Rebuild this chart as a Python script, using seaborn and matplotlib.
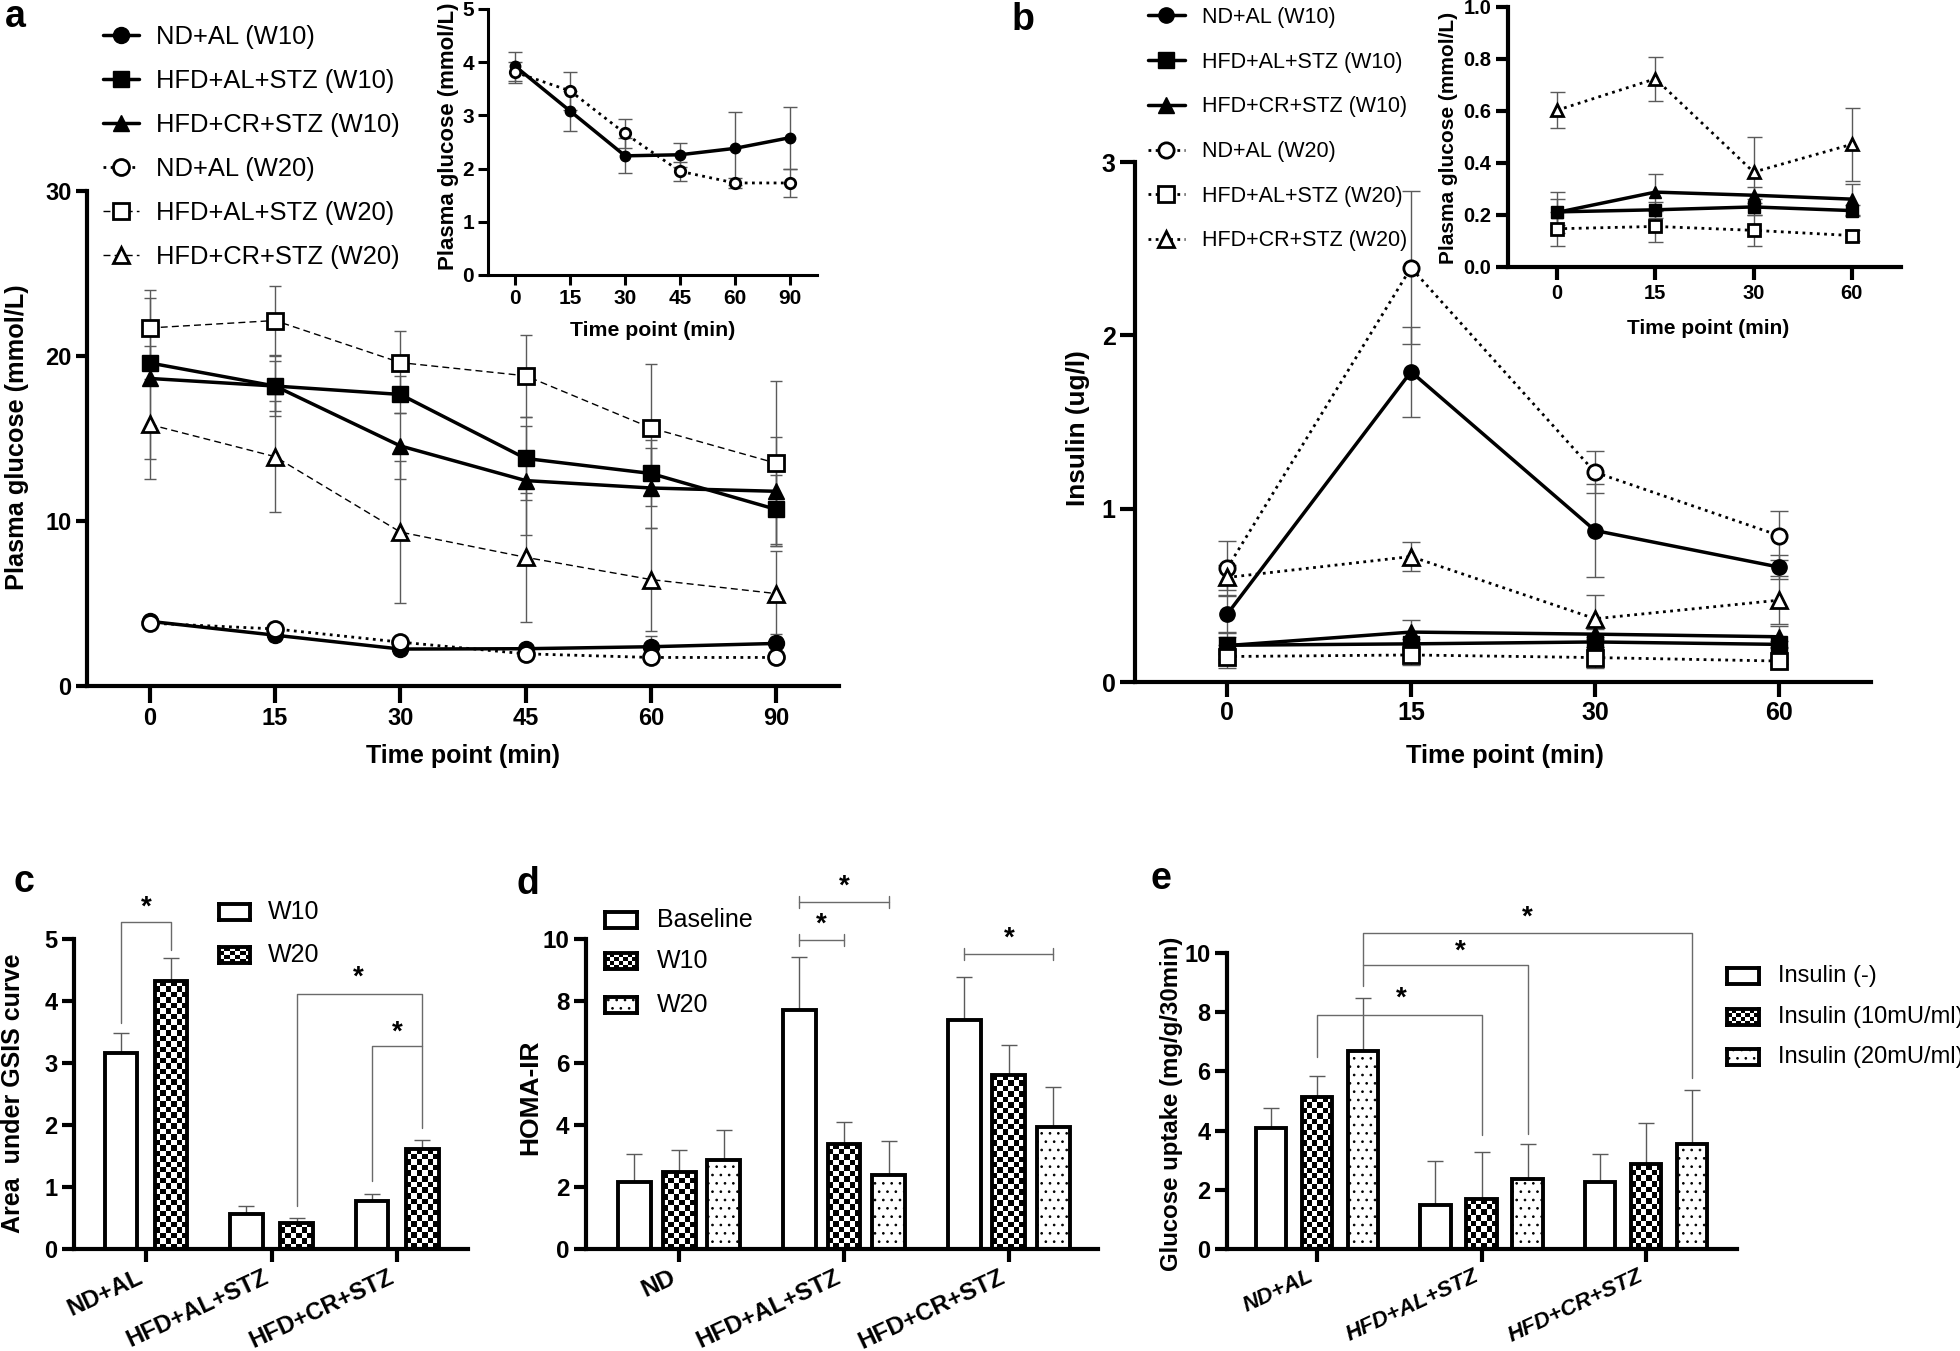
"""Glucose/insulin tolerance panels (a, b) and bar panels (c, d, e)."""
import numpy as np
import pandas as pd
import matplotlib
matplotlib.use('Agg')
import matplotlib.pyplot as plt
from matplotlib.patches import Rectangle
import seaborn as sns

W, H = 1960, 1351

# ---- panel a: plasma glucose over time
times_a = ['0', '15', '30', '45', '60', '90']
a_nd_w10 = [3.92, 3.08, 2.24, 2.26, 2.38, 2.58]
a_nd_w10_err = [0.28, 0.38, 0.33, 0.23, 0.68, 0.58]
a_al_w10 = [19.58, 18.18, 17.67, 13.79, 12.88, 10.7]
a_al_w10_err = [1.0, 1.5, 1.1, 2.5, 2.0, 2.1]
a_cr_w10 = [18.64, 18.18, 14.55, 12.45, 12.0, 11.8]
a_cr_w10_err = [4.9, 1.8, 2.0, 3.3, 2.4, 3.3]
a_nd_w20 = [3.81, 3.46, 2.66, 1.95, 1.73, 1.73]
a_nd_w20_err = [0.2, 0.35, 0.27, 0.18, 0.1, 0.27]
a_al_w20 = [21.7, 22.15, 19.6, 18.8, 15.64, 13.5]
a_al_w20_err = [2.3, 2.1, 1.9, 2.5, 3.9, 5.0]
a_cr_w20 = [15.85, 13.9, 9.33, 7.8, 6.45, 5.6]
a_cr_w20_err = [3.3, 3.35, 4.3, 3.9, 3.1, 2.6]

# ---- panel b: insulin over time
times_b = ['0', '15', '30', '60']
b_nd_w10 = [0.39, 1.79, 0.874, 0.663]
b_nd_w10_err = [0.11, 0.26, 0.27, 0.07]
b_al_w10 = [0.212, 0.22, 0.231, 0.217]
b_al_w10_err = [0.05, 0.03, 0.03, 0.02]
b_cr_w10 = [0.21, 0.288, 0.276, 0.261]
b_cr_w10_err = [0.08, 0.07, 0.03, 0.06]
b_nd_w20 = [0.655, 2.39, 1.21, 0.845]
b_nd_w20_err = [0.16, 0.44, 0.12, 0.14]
b_al_w20 = [0.147, 0.156, 0.141, 0.121]
b_al_w20_err = [0.066, 0.06, 0.06, 0.02]
b_cr_w20 = [0.603, 0.724, 0.365, 0.472]
b_cr_w20_err = [0.07, 0.085, 0.135, 0.14]

labels_lines = ['ND+AL (W10)', 'HFD+AL+STZ (W10)', 'HFD+CR+STZ (W10)',
                'ND+AL (W20)', 'HFD+AL+STZ (W20)', 'HFD+CR+STZ (W20)']

# ---- panel c: AUC of GSIS
groups_c = ['ND+AL', 'HFD+AL+STZ', 'HFD+CR+STZ']
levels_c = ['W10', 'W20']
c_w10 = [3.16, 0.57, 0.78]
c_w10_err = [0.33, 0.12, 0.11]
c_w20 = [4.32, 0.42, 1.62]
c_w20_err = [0.37, 0.08, 0.14]

# ---- panel d: HOMA-IR
groups_d = ['ND', 'HFD+AL+STZ', 'HFD+CR+STZ']
levels_d = ['Baseline', 'W10', 'W20']
d_base = [2.15, 7.71, 7.38]
d_base_err = [0.91, 1.72, 1.41]
d_w10 = [2.47, 3.39, 5.6]
d_w10_err = [0.73, 0.7, 0.98]
d_w20 = [2.88, 2.4, 3.93]
d_w20_err = [0.97, 1.07, 1.31]

# ---- panel e: glucose uptake
groups_e = ['ND+AL', 'HFD+AL+STZ', 'HFD+CR+STZ']
levels_e = ['Insulin (-)', 'Insulin (10mU/ml)', 'Insulin (20mU/ml)']
e_none = [4.1, 1.48, 2.26]
e_none_err = [0.68, 1.49, 0.96]
e_10 = [5.12, 1.7, 2.86]
e_10_err = [0.71, 1.59, 1.38]
e_20 = [6.7, 2.37, 3.54]
e_20_err = [1.79, 1.19, 1.84]

sns.set_theme(style='ticks')
plt.rcParams['font.family'] = ['Liberation Sans', 'DejaVu Sans']
plt.rcParams.update({'axes.edgecolor': 'black', 'xtick.color': 'black', 'ytick.color': 'black',
                     'text.color': 'black', 'axes.labelcolor': 'black', 'hatch.linewidth': 0.7})

fig = plt.figure(figsize=(W / 100, H / 100), dpi=100)
ERR = '#5a5a5a'
CELL = 5.5  # checkerboard square, px


def px_axes(left, top, right, bottom):
    return fig.add_axes([left / W, 1 - bottom / H, (right - left) / W, (bottom - top) / H])


def style(ax, lw, xlen, ylen, size, italic=False):
    sns.despine(ax=ax)
    for s in ['left', 'bottom']:
        ax.spines[s].set_linewidth(lw)
    ax.tick_params(axis='x', width=lw, length=xlen, pad=3)
    ax.tick_params(axis='y', width=lw, length=ylen, pad=3)
    for t in ax.get_xticklabels() + ax.get_yticklabels():
        t.set_fontweight('bold')
        t.set_fontsize(size)
        if italic and t in ax.get_xticklabels():
            t.set_fontstyle('italic')


def draw_lines(ax, series, ms, cap, styles):
    handles = []
    for (vals, errs), (mk, filled, ls, lw) in zip(series, styles):
        x = np.arange(len(vals))
        ax.errorbar(x, vals, yerr=errs, fmt='none', ecolor=ERR, elinewidth=1.0,
                    capsize=cap, capthick=1.0, zorder=1)
        sns.lineplot(x=x, y=vals, ax=ax, color='black', lw=lw, ls=ls, marker=mk, ms=ms,
                     mfc='black' if filled else 'white', mec='black',
                     mew=1.0 if filled else 2.0, errorbar=None, legend=False, zorder=3)
        handles.append(ax.lines[-1])
    return handles


def checker_fill(ax, patch, cell=CELL):
    x, y, w, h = patch.get_x(), patch.get_y(), patch.get_width(), patch.get_height()
    p0 = ax.transData.transform((x, y))
    p1 = ax.transData.transform((x + w, y + h))
    nx = max(2, int(round((p1[0] - p0[0]) / cell)))
    ny = max(1, int(round((p1[1] - p0[1]) / cell)))
    board = np.indices((ny, nx)).sum(axis=0) % 2
    ax.imshow(board, extent=(x, x + w, y, y + h), origin='lower', cmap='gray_r', vmin=0, vmax=1,
              interpolation='nearest', aspect='auto', zorder=0.8)
    patch.set_facecolor('none')


def swatch(left, top, w, h, kind):
    sw = fig.add_axes([(left + 2) / W, 1 - (top + h - 2) / H, (w - 4) / W, (h - 4) / H])
    sw.set_xticks([])
    sw.set_yticks([])
    for s in sw.spines.values():
        s.set_visible(True)
        s.set_linewidth(2.8)
        s.set_color('black')
    if kind == 'checker':
        board = np.indices((max(1, round(h / CELL)), max(1, round(w / CELL)))).sum(axis=0) % 2
        sw.imshow(board, cmap='gray_r', vmin=0, vmax=1, interpolation='nearest', aspect='auto')
    elif kind == 'dots':
        sw.add_patch(Rectangle((0, 0), 1, 1, transform=sw.transAxes, facecolor='white',
                               edgecolor='black', hatch='..', lw=0))


def bar_panel(ax, groups, levels, values, errors, width, gap, ylim, xlim, kinds):
    df = pd.DataFrame({'group': np.repeat([groups], len(levels), axis=0).ravel(),
                       'cond': np.repeat(levels, len(groups)),
                       'value': np.concatenate(values)})
    sns.barplot(data=df, x='group', y='value', hue='cond', order=groups, hue_order=levels,
                palette=['white'] * len(levels), edgecolor='black', linewidth=2.8,
                width=width, gap=gap, errorbar=None, legend=False, saturation=1, ax=ax)
    conts = list(ax.containers)
    ax.set_xlim(*xlim)
    ax.set_ylim(*ylim)
    for cont, vals, errs, kind in zip(conts, values, errors, kinds):
        xs = [p.get_x() + p.get_width() / 2 for p in cont]
        ax.errorbar(xs, vals, yerr=[np.zeros(len(vals)), errs], fmt='none', ecolor=ERR,
                    elinewidth=1.0, capsize=6, capthick=1.0, zorder=0.5)
        for p in cont:
            if kind == 'checker':
                checker_fill(ax, p)
            elif kind == 'dots':
                p.set_hatch('..')
    ax.set_xlim(*xlim)
    ax.set_ylim(*ylim)
    ax.set_xlabel('')


def bracket(ax, xs, ys):
    ax.plot(xs, ys, color='#6a6a6a', lw=1.0, clip_on=False, zorder=4)


def star(ax, x, y):
    ax.text(x, y, '*', ha='center', va='center', fontsize=20, fontweight='bold', clip_on=False)


styles_a = [('o', True, '-', 2.5), ('s', True, '-', 2.5), ('^', True, '-', 2.5),
            ('o', False, (0, (1, 1.6)), 2.0), ('s', False, (0, (5, 3)), 1.0),
            ('^', False, (0, (5, 3)), 1.0)]
styles_b = [('o', True, '-', 2.5), ('s', True, '-', 2.5), ('^', True, '-', 2.5),
            ('o', False, (0, (1, 1.6)), 2.0), ('s', False, (0, (1, 1.6)), 2.0),
            ('^', False, (0, (1, 1.6)), 2.0)]

# ================= panel a
ax = px_axes(87, 191, 839, 686)
series_a = [(a_nd_w10, a_nd_w10_err), (a_al_w10, a_al_w10_err), (a_cr_w10, a_cr_w10_err),
            (a_nd_w20, a_nd_w20_err), (a_al_w20, a_al_w20_err), (a_cr_w20, a_cr_w20_err)]
hs = draw_lines(ax, series_a, 11.5, 4.3, styles_a)
ax.set_xlim(-0.5, 5.5)
ax.set_ylim(0, 30)
ax.set_yticks([0, 10, 20, 30])
ax.set_xticks(range(len(times_a)))
ax.set_xticklabels(times_a)
style(ax, 3.0, 12, 8, 17)
ax.set_xlabel('Time point (min)', fontsize=18, fontweight='bold')
ax.xaxis.set_label_coords(0.5, -0.117)
ax.set_ylabel('Plasma glucose (mmol/L)', fontsize=18.3, fontweight='bold')
ax.yaxis.set_label_coords(-0.077, 0.503)
ax.legend(hs, labels_lines, loc='upper left', bbox_to_anchor=(103 / W, 1 - 25 / H),
          bbox_transform=fig.transFigure, frameon=False, fontsize=18.4, handlelength=1.41,
          handletextpad=0.67, labelspacing=0.78, borderaxespad=0, borderpad=0)
fig.text(5 / W, 1 - 27 / H, 'a', fontsize=27, fontweight='bold', va='baseline')

axi = px_axes(488, 9, 817, 275)
draw_lines(axi, series_a[0:1] + series_a[3:4], 7.5, 4.7, [styles_a[0], styles_a[3]])
axi.set_xlim(-0.5, 5.5)
axi.set_ylim(0, 5)
axi.set_yticks(range(6))
axi.set_xticks(range(len(times_a)))
axi.set_xticklabels(times_a)
style(axi, 2.2, 7, 7, 15)
axi.set_xlabel('Time point (min)', fontsize=15.3, fontweight='bold')
axi.xaxis.set_label_coords(0.5, -0.173)
axi.set_ylabel('Plasma glucose (mmol/L)', fontsize=16, fontweight='bold')
axi.yaxis.set_label_coords(-0.088, 0.52)

# ================= panel b
bx = px_axes(1135, 162, 1871, 682)
series_b = [(b_nd_w10, b_nd_w10_err), (b_al_w10, b_al_w10_err), (b_cr_w10, b_cr_w10_err),
            (b_nd_w20, b_nd_w20_err), (b_al_w20, b_al_w20_err), (b_cr_w20, b_cr_w20_err)]
hs = draw_lines(bx, series_b, 11, 6.5, styles_b)
bx.set_xlim(-0.5, 3.5)
bx.set_ylim(0, 3)
bx.set_yticks([0, 1, 2, 3])
bx.set_xticks(range(len(times_b)))
bx.set_xticklabels(times_b)
style(bx, 3.0, 11, 11, 18)
bx.set_xlabel('Time point (min)', fontsize=18.4, fontweight='bold')
bx.xaxis.set_label_coords(0.503, -0.119)
bx.set_ylabel('Insulin (ug/l)', fontsize=18.8, fontweight='bold')
bx.yaxis.set_label_coords(-0.061, 0.488)
bx.legend(hs, labels_lines, loc='upper left', bbox_to_anchor=(1148 / W, 1 - 7 / H),
          bbox_transform=fig.transFigure, frameon=False, fontsize=15.5, handlelength=1.7,
          handletextpad=0.8, labelspacing=1.1, borderaxespad=0, borderpad=0)
fig.text(1012 / W, 1 - 30 / H, 'b', fontsize=27, fontweight='bold', va='baseline')

bxi = px_axes(1508, 7, 1901, 267)
draw_lines(bxi, series_b[1:3] + series_b[4:6], 8, 5.4,
           [styles_b[1], styles_b[2], styles_b[4], styles_b[5]])
bxi.set_xlim(-0.5, 3.5)
bxi.set_ylim(0, 1)
yt = np.arange(0, 1.01, 0.2)
bxi.set_yticks(yt)
bxi.set_yticklabels([f'{v:.1f}' for v in yt])
bxi.set_xticks(range(len(times_b)))
bxi.set_xticklabels(times_b)
style(bxi, 3.0, 9, 9, 14.5)
bxi.set_xlabel('Time point (min)', fontsize=15, fontweight='bold')
bxi.xaxis.set_label_coords(0.509, -0.2)
bxi.set_ylabel('Plasma glucose (mmol/L)', fontsize=15, fontweight='bold')
bxi.yaxis.set_label_coords(-0.127, 0.496)

# ================= panel c
cx = px_axes(74, 939, 468, 1249)
bar_panel(cx, groups_c, levels_c, [c_w10, c_w20], [c_w10_err, c_w20_err], 0.8, 0.35,
          (0, 5), (-0.573, 2.564), ['plain', 'checker'])
cx.set_yticks(range(6))
style(cx, 3.0, 9, 9, 17)
plt.setp(cx.get_xticklabels(), rotation=25, ha='right', fontsize=17.2)
cx.set_ylabel('Area  under GSIS curve', fontsize=18, fontweight='bold')
cx.yaxis.set_label_coords(-0.124, 0.503)
bracket(cx, [-0.2, -0.2, 0.2, 0.2], [3.64, 5.27, 5.27, 4.82])
star(cx, 0, 5.5)
bracket(cx, [1.2, 1.2, 2.2, 2.2], [0.69, 4.11, 4.11, 1.95])
star(cx, 1.69, 4.37)
bracket(cx, [1.8, 1.8, 2.2], [1.09, 3.28, 3.28])
star(cx, 2.0, 3.49)
for (top, lab, kind) in [(902, levels_c[0], 'plain'), (945, levels_c[1], 'checker')]:
    swatch(217, top, 35, 20, kind)
    fig.text(268 / W, 1 - (top + 10) / H, lab, fontsize=18, va='center')
fig.text(13 / W, 1 - 892 / H, 'c', fontsize=27, fontweight='bold', va='baseline')

# ================= panel d
dx = px_axes(586, 939, 1098, 1249)
bar_panel(dx, groups_d, levels_d, [d_base, d_w10, d_w20], [d_base_err, d_w10_err, d_w20_err],
          0.81, 0.26, (0, 10), (-0.564, 2.54), ['plain', 'checker', 'dots'])
dx.set_yticks(range(0, 11, 2))
style(dx, 3.0, 9, 9, 17.5)
plt.setp(dx.get_xticklabels(), rotation=25, ha='right', fontsize=17.5)
dx.set_ylabel('HOMA-IR', fontsize=19, fontweight='bold')
dx.yaxis.set_label_coords(-0.086, 0.49)
for x0, x1, yb, xs in [(0.73, 1.0, 9.97, 0.865), (0.73, 1.27, 11.2, 1.0), (1.73, 2.27, 9.52, 2.0)]:
    bracket(dx, [x0, x1], [yb, yb])
    bracket(dx, [x0, x0], [yb - 0.2, yb + 0.2])
    bracket(dx, [x1, x1], [yb - 0.2, yb + 0.2])
    star(dx, xs, yb + 0.5)
for (top, lab, kind) in [(910, levels_d[0], 'plain'), (951, levels_d[1], 'checker'),
                         (995, levels_d[2], 'dots')]:
    swatch(603, top, 36, 20, kind)
    fig.text(657 / W, 1 - (top + 10) / H, lab, fontsize=18, va='center')
fig.text(516 / W, 1 - 894 / H, 'd', fontsize=27, fontweight='bold', va='baseline')

# ================= panel e
ex = px_axes(1227, 953, 1737, 1249)
bar_panel(ex, groups_e, levels_e, [e_none, e_10, e_20], [e_none_err, e_10_err, e_20_err],
          0.84, 0.34, (0, 10), (-0.547, 2.553), ['plain', 'checker', 'dots'])
ex.set_yticks(range(0, 11, 2))
style(ex, 3.0, 9, 9, 17, italic=True)
plt.setp(ex.get_xticklabels(), rotation=25, ha='right', fontsize=16)
ex.set_ylabel('Glucose uptake (mg/g/30min)', fontsize=17.3, fontweight='bold')
ex.yaxis.set_label_coords(-0.086, 0.49)
bracket(ex, [0.0, 0.0, 1.0, 1.0], [6.47, 7.89, 7.89, 3.85])
star(ex, 0.51, 8.45)
bracket(ex, [0.28, 0.28, 1.28, 1.28], [8.9, 9.58, 9.58, 3.88])
star(ex, 0.87, 10.03)
bracket(ex, [0.28, 0.28, 2.28, 2.28], [9.58, 10.66, 10.66, 5.77])
star(ex, 1.28, 11.2)
for (top, lab, kind) in [(966, levels_e[0], 'plain'), (1007, levels_e[1], 'checker'),
                         (1047, levels_e[2], 'dots')]:
    swatch(1725, top, 36, 20, kind)
    fig.text(1778 / W, 1 - (top + 10) / H, lab, fontsize=17, va='center')
fig.text(1150 / W, 1 - 889 / H, 'e', fontsize=27, fontweight='bold', va='baseline')

fig.savefig('out.png', dpi=100)
